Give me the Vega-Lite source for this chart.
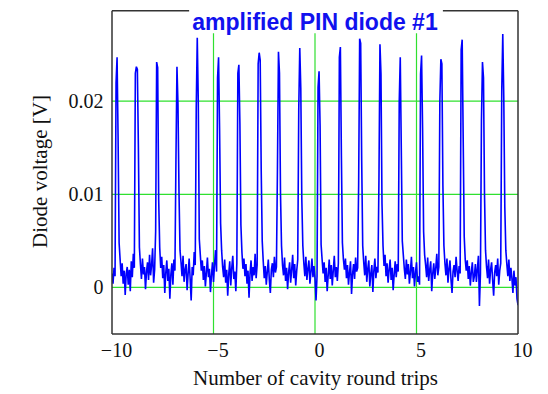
{
  "$schema": "https://vega.github.io/schema/vega-lite/v6.json",
  "width": 406,
  "height": 326,
  "autosize": {"type": "none"},
  "padding": {"left": 112, "top": 8, "right": 30, "bottom": 60},
  "background": "white",
  "config": {
    "view": {"stroke": null},
    "axis": {"grid": false, "ticks": false, "domain": false},
    "axisX": {"labelFlush": false,
      "labelFont": "Liberation Serif", "labelFontSize": 20, "labelColor": "#111", "labelPadding": 6, "labelOffset": 4,
      "titleFont": "Liberation Serif", "titleFontSize": 21, "titleFontWeight": "normal", "titleColor": "#111", "titlePadding": 7},
    "axisY": {"labelFlush": false,
      "labelFont": "Liberation Serif", "labelFontSize": 20, "labelColor": "#111", "labelPadding": 9,
      "titleFont": "Liberation Serif", "titleFontSize": 21, "titleFontWeight": "normal", "titleColor": "#111", "titlePadding": 18}
  },
  "title": {"text": "amplified PIN diode #1", "font": "Liberation Sans", "fontSize": 23, "fontWeight": "bold", "color": "#1111ee", "offset": -27, "anchor": "middle"},
  "layer": [
    {
      "data": {"values": [
        {"gx": -5, "gx2": -5, "gy": -0.005, "gy2": 0.0273},
        {"gx": 0, "gx2": 0, "gy": -0.005, "gy2": 0.0273},
        {"gx": 5, "gx2": 5, "gy": -0.005, "gy2": 0.0273},
        {"gx": -10, "gx2": 10, "gy": 0, "gy2": 0},
        {"gx": -10, "gx2": 10, "gy": 0.01, "gy2": 0.01},
        {"gx": -10, "gx2": 10, "gy": 0.02, "gy2": 0.02}
      ]},
      "mark": {"type": "rule", "color": "#2fe02f", "strokeWidth": 1.2},
      "encoding": {
        "x": {"field": "gx", "type": "quantitative", "scale": {"domain": [-10, 10], "nice": false}, "title": "Number of cavity round trips",
          "axis": {"values": [-10, -5, 0, 5, 10], "format": "d"}},
        "x2": {"field": "gx2"},
        "y": {"field": "gy", "type": "quantitative", "scale": {"domain": [-0.005, 0.03], "nice": false}, "title": "Diode voltage [V]",
          "axis": {"values": [0, 0.01, 0.02], "format": ".2~f"}},
        "y2": {"field": "gy2"}
      }
    },
    {
      "data": {"values": [
        {"x": -10.00, "y": 0.0015}, {"x": -9.95, "y": 0.0004}, {"x": -9.90, "y": 0.0021}, {"x": -9.85, "y": 0.0012},
        {"x": -9.80, "y": 0.0220}, {"x": -9.75, "y": 0.0247}, {"x": -9.70, "y": 0.0160}, {"x": -9.65, "y": 0.0048}, {"x": -9.60, "y": 0.0030},
        {"x": -9.55, "y": 0.0012}, {"x": -9.50, "y": 0.0026}, {"x": -9.45, "y": 0.0004}, {"x": -9.40, "y": 0.0018}, {"x": -9.35, "y": -0.0008}, {"x": -9.30, "y": 0.0015}, {"x": -9.25, "y": 0.0022}, {"x": -9.20, "y": 0.0003}, {"x": -9.15, "y": 0.0019}, {"x": -9.10, "y": -0.0004}, {"x": -9.05, "y": 0.0028}, {"x": -9.00, "y": 0.0011}, {"x": -8.95, "y": 0.0036}, {"x": -8.90, "y": 0.0021},
        {"x": -8.85, "y": 0.0230}, {"x": -8.80, "y": 0.0237}, {"x": -8.75, "y": 0.0234}, {"x": -8.70, "y": 0.0150}, {"x": -8.65, "y": 0.0043},
        {"x": -8.60, "y": 0.0025}, {"x": -8.55, "y": 0.0009}, {"x": -8.50, "y": 0.0031}, {"x": -8.45, "y": 0.0014}, {"x": -8.40, "y": 0.0022}, {"x": -8.35, "y": -0.0002}, {"x": -8.30, "y": 0.0017}, {"x": -8.25, "y": 0.0027}, {"x": -8.20, "y": 0.0008}, {"x": -8.15, "y": 0.0035}, {"x": -8.10, "y": 0.0013}, {"x": -8.05, "y": 0.0024}, {"x": -8.00, "y": 0.0042}, {"x": -7.95, "y": 0.0005}, {"x": -7.90, "y": 0.0019},
        {"x": -7.85, "y": 0.0060}, {"x": -7.80, "y": 0.0242}, {"x": -7.75, "y": 0.0236}, {"x": -7.70, "y": 0.0094}, {"x": -7.65, "y": 0.0043},
        {"x": -7.60, "y": 0.0021}, {"x": -7.55, "y": 0.0033}, {"x": -7.50, "y": 0.0010}, {"x": -7.45, "y": 0.0024}, {"x": -7.40, "y": -0.0006}, {"x": -7.35, "y": 0.0016}, {"x": -7.30, "y": 0.0029}, {"x": -7.25, "y": 0.0007}, {"x": -7.20, "y": 0.0020}, {"x": -7.15, "y": -0.0012}, {"x": -7.10, "y": 0.0014}, {"x": -7.05, "y": 0.0026}, {"x": -7.00, "y": 0.0003}, {"x": -6.95, "y": 0.0030}, {"x": -6.90, "y": 0.0018},
        {"x": -6.85, "y": 0.0137}, {"x": -6.80, "y": 0.0237}, {"x": -6.75, "y": 0.0197}, {"x": -6.70, "y": 0.0102}, {"x": -6.65, "y": 0.0040},
        {"x": -6.60, "y": 0.0027}, {"x": -6.55, "y": 0.0012}, {"x": -6.50, "y": 0.0034}, {"x": -6.45, "y": 0.0006}, {"x": -6.40, "y": 0.0019}, {"x": -6.35, "y": 0.0025}, {"x": -6.30, "y": -0.0003}, {"x": -6.25, "y": 0.0015}, {"x": -6.20, "y": 0.0031}, {"x": -6.15, "y": 0.0009}, {"x": -6.10, "y": -0.0014}, {"x": -6.05, "y": 0.0022}, {"x": -6.00, "y": 0.0013}, {"x": -5.95, "y": 0.0038}, {"x": -5.90, "y": 0.0024},
        {"x": -5.85, "y": 0.0193}, {"x": -5.80, "y": 0.0268}, {"x": -5.75, "y": 0.0200}, {"x": -5.70, "y": 0.0052}, {"x": -5.65, "y": 0.0035},
        {"x": -5.60, "y": 0.0018}, {"x": -5.55, "y": 0.0029}, {"x": -5.50, "y": 0.0008}, {"x": -5.45, "y": 0.0023}, {"x": -5.40, "y": 0.0001}, {"x": -5.35, "y": 0.0016}, {"x": -5.30, "y": 0.0032}, {"x": -5.25, "y": 0.0011}, {"x": -5.20, "y": 0.0020}, {"x": -5.15, "y": -0.0005}, {"x": -5.10, "y": 0.0013}, {"x": -5.05, "y": 0.0027}, {"x": -5.00, "y": 0.0006}, {"x": -4.95, "y": 0.0024}, {"x": -4.90, "y": 0.0040}, {"x": -4.85, "y": 0.0017},
        {"x": -4.80, "y": 0.0225}, {"x": -4.75, "y": 0.0247}, {"x": -4.70, "y": 0.0169}, {"x": -4.65, "y": 0.0069}, {"x": -4.60, "y": 0.0040},
        {"x": -4.55, "y": 0.0022}, {"x": -4.50, "y": 0.0011}, {"x": -4.45, "y": 0.0030}, {"x": -4.40, "y": 0.0005}, {"x": -4.35, "y": 0.0019}, {"x": -4.30, "y": -0.0009}, {"x": -4.25, "y": 0.0014}, {"x": -4.20, "y": 0.0028}, {"x": -4.15, "y": 0.0002}, {"x": -4.10, "y": 0.0021}, {"x": -4.05, "y": 0.0034}, {"x": -4.00, "y": 0.0009}, {"x": -3.95, "y": 0.0017}, {"x": -3.90, "y": -0.0004}, {"x": -3.85, "y": 0.0026},
        {"x": -3.80, "y": 0.0230}, {"x": -3.75, "y": 0.0239}, {"x": -3.70, "y": 0.0176}, {"x": -3.65, "y": 0.0067}, {"x": -3.60, "y": 0.0038},
        {"x": -3.55, "y": 0.0020}, {"x": -3.50, "y": 0.0031}, {"x": -3.45, "y": 0.0012}, {"x": -3.40, "y": 0.0025}, {"x": -3.35, "y": 0.0004}, {"x": -3.30, "y": 0.0018}, {"x": -3.25, "y": -0.0011}, {"x": -3.20, "y": 0.0015}, {"x": -3.15, "y": 0.0029}, {"x": -3.10, "y": 0.0007}, {"x": -3.05, "y": 0.0022}, {"x": -3.00, "y": 0.0013}, {"x": -2.95, "y": 0.0036}, {"x": -2.90, "y": 0.0010}, {"x": -2.85, "y": 0.0024},
        {"x": -2.80, "y": 0.0240}, {"x": -2.75, "y": 0.0252}, {"x": -2.70, "y": 0.0244}, {"x": -2.65, "y": 0.0126}, {"x": -2.60, "y": 0.0050},
        {"x": -2.55, "y": 0.0028}, {"x": -2.50, "y": 0.0010}, {"x": -2.45, "y": 0.0023}, {"x": -2.40, "y": 0.0003}, {"x": -2.35, "y": 0.0017}, {"x": -2.30, "y": 0.0030}, {"x": -2.25, "y": 0.0008}, {"x": -2.20, "y": -0.0006}, {"x": -2.15, "y": 0.0019}, {"x": -2.10, "y": 0.0026}, {"x": -2.05, "y": 0.0011}, {"x": -2.00, "y": 0.0033}, {"x": -1.95, "y": 0.0016}, {"x": -1.90, "y": 0.0022},
        {"x": -1.85, "y": 0.0127}, {"x": -1.80, "y": 0.0253}, {"x": -1.75, "y": 0.0230}, {"x": -1.70, "y": 0.0101}, {"x": -1.65, "y": 0.0045},
        {"x": -1.60, "y": 0.0024}, {"x": -1.55, "y": 0.0013}, {"x": -1.50, "y": 0.0032}, {"x": -1.45, "y": 0.0007}, {"x": -1.40, "y": 0.0021}, {"x": -1.35, "y": -0.0002}, {"x": -1.30, "y": 0.0016}, {"x": -1.25, "y": 0.0027}, {"x": -1.20, "y": 0.0005}, {"x": -1.15, "y": 0.0019}, {"x": -1.10, "y": 0.0035}, {"x": -1.05, "y": 0.0010}, {"x": -1.00, "y": 0.0025}, {"x": -0.95, "y": 0.0002}, {"x": -0.90, "y": 0.0018}, {"x": -0.85, "y": 0.0030},
        {"x": -0.80, "y": 0.0192}, {"x": -0.75, "y": 0.0257}, {"x": -0.70, "y": 0.0214}, {"x": -0.65, "y": 0.0095}, {"x": -0.60, "y": 0.0045},
        {"x": -0.55, "y": 0.0026}, {"x": -0.50, "y": 0.0012}, {"x": -0.45, "y": 0.0033}, {"x": -0.40, "y": 0.0008}, {"x": -0.35, "y": 0.0020}, {"x": -0.30, "y": 0.0029}, {"x": -0.25, "y": 0.0004}, {"x": -0.20, "y": 0.0017}, {"x": -0.15, "y": 0.0031}, {"x": -0.10, "y": 0.0011}, {"x": -0.05, "y": 0.0023}, {"x": 0.00, "y": 0.0010}, {"x": 0.05, "y": -0.0014}, {"x": 0.10, "y": 0.0012},
        {"x": 0.15, "y": 0.0215}, {"x": 0.20, "y": 0.0232}, {"x": 0.25, "y": 0.0174}, {"x": 0.30, "y": 0.0046}, {"x": 0.35, "y": 0.0030},
        {"x": 0.40, "y": 0.0015}, {"x": 0.45, "y": 0.0027}, {"x": 0.50, "y": 0.0006}, {"x": 0.55, "y": 0.0021}, {"x": 0.60, "y": -0.0004}, {"x": 0.65, "y": 0.0013}, {"x": 0.70, "y": 0.0030}, {"x": 0.75, "y": 0.0009}, {"x": 0.80, "y": 0.0024}, {"x": 0.85, "y": 0.0002}, {"x": 0.90, "y": 0.0018}, {"x": 0.95, "y": 0.0034}, {"x": 1.00, "y": 0.0011}, {"x": 1.05, "y": 0.0022}, {"x": 1.10, "y": 0.0007}, {"x": 1.15, "y": 0.0026},
        {"x": 1.20, "y": 0.0247}, {"x": 1.25, "y": 0.0258}, {"x": 1.30, "y": 0.0142}, {"x": 1.35, "y": 0.0048}, {"x": 1.40, "y": 0.0030},
        {"x": 1.45, "y": 0.0019}, {"x": 1.50, "y": 0.0031}, {"x": 1.55, "y": 0.0010}, {"x": 1.60, "y": 0.0024}, {"x": 1.65, "y": 0.0003}, {"x": 1.70, "y": 0.0016}, {"x": 1.75, "y": 0.0028}, {"x": 1.80, "y": -0.0007}, {"x": 1.85, "y": 0.0014}, {"x": 1.90, "y": 0.0025}, {"x": 1.95, "y": 0.0009}, {"x": 2.00, "y": 0.0032}, {"x": 2.05, "y": 0.0017}, {"x": 2.10, "y": 0.0021},
        {"x": 2.15, "y": 0.0110}, {"x": 2.20, "y": 0.0267}, {"x": 2.25, "y": 0.0262}, {"x": 2.30, "y": 0.0136}, {"x": 2.35, "y": 0.0045},
        {"x": 2.40, "y": 0.0027}, {"x": 2.45, "y": 0.0013}, {"x": 2.50, "y": 0.0034}, {"x": 2.55, "y": 0.0006}, {"x": 2.60, "y": 0.0020}, {"x": 2.65, "y": 0.0029}, {"x": 2.70, "y": 0.0001}, {"x": 2.75, "y": 0.0015}, {"x": 2.80, "y": 0.0024}, {"x": 2.85, "y": -0.0005}, {"x": 2.90, "y": 0.0018}, {"x": 2.95, "y": 0.0031}, {"x": 3.00, "y": 0.0010}, {"x": 3.05, "y": 0.0022}, {"x": 3.10, "y": 0.0016},
        {"x": 3.15, "y": 0.0115}, {"x": 3.20, "y": 0.0261}, {"x": 3.25, "y": 0.0229}, {"x": 3.30, "y": 0.0090}, {"x": 3.35, "y": 0.0045},
        {"x": 3.40, "y": 0.0023}, {"x": 3.45, "y": 0.0035}, {"x": 3.50, "y": 0.0012}, {"x": 3.55, "y": 0.0026}, {"x": 3.60, "y": 0.0005}, {"x": 3.65, "y": 0.0019}, {"x": 3.70, "y": 0.0030}, {"x": 3.75, "y": 0.0008}, {"x": 3.80, "y": 0.0021}, {"x": 3.85, "y": -0.0003}, {"x": 3.90, "y": 0.0014}, {"x": 3.95, "y": 0.0028}, {"x": 4.00, "y": 0.0011}, {"x": 4.05, "y": 0.0025}, {"x": 4.10, "y": 0.0017},
        {"x": 4.15, "y": 0.0200}, {"x": 4.20, "y": 0.0247}, {"x": 4.25, "y": 0.0150}, {"x": 4.30, "y": 0.0050}, {"x": 4.35, "y": 0.0035},
        {"x": 4.40, "y": 0.0020}, {"x": 4.45, "y": 0.0009}, {"x": 4.50, "y": 0.0030}, {"x": 4.55, "y": 0.0014}, {"x": 4.60, "y": 0.0025}, {"x": 4.65, "y": 0.0004}, {"x": 4.70, "y": 0.0017}, {"x": 4.75, "y": 0.0033}, {"x": 4.80, "y": 0.0010}, {"x": 4.85, "y": 0.0022}, {"x": 4.90, "y": 0.0001}, {"x": 4.95, "y": 0.0016}, {"x": 5.00, "y": 0.0027}, {"x": 5.05, "y": 0.0006}, {"x": 5.10, "y": 0.0012}, {"x": 5.15, "y": 0.0003},
        {"x": 5.20, "y": 0.0229}, {"x": 5.25, "y": 0.0249}, {"x": 5.30, "y": 0.0170}, {"x": 5.35, "y": 0.0060}, {"x": 5.40, "y": 0.0035},
        {"x": 5.45, "y": 0.0024}, {"x": 5.50, "y": 0.0011}, {"x": 5.55, "y": 0.0032}, {"x": 5.60, "y": 0.0007}, {"x": 5.65, "y": 0.0019}, {"x": 5.70, "y": 0.0028}, {"x": 5.75, "y": -0.0004}, {"x": 5.80, "y": 0.0015}, {"x": 5.85, "y": 0.0026}, {"x": 5.90, "y": 0.0009}, {"x": 5.95, "y": 0.0021}, {"x": 6.00, "y": 0.0036}, {"x": 6.05, "y": 0.0013}, {"x": 6.10, "y": 0.0022},
        {"x": 6.15, "y": 0.0200}, {"x": 6.20, "y": 0.0245}, {"x": 6.25, "y": 0.0240}, {"x": 6.30, "y": 0.0110}, {"x": 6.35, "y": 0.0045},
        {"x": 6.40, "y": 0.0026}, {"x": 6.45, "y": 0.0013}, {"x": 6.50, "y": 0.0031}, {"x": 6.55, "y": 0.0005}, {"x": 6.60, "y": 0.0020}, {"x": 6.65, "y": 0.0029}, {"x": 6.70, "y": 0.0008}, {"x": 6.75, "y": -0.0006}, {"x": 6.80, "y": 0.0017}, {"x": 6.85, "y": 0.0024}, {"x": 6.90, "y": 0.0011}, {"x": 6.95, "y": 0.0033}, {"x": 7.00, "y": 0.0018}, {"x": 7.05, "y": 0.0007}, {"x": 7.10, "y": 0.0023}, {"x": 7.15, "y": 0.0015},
        {"x": 7.20, "y": 0.0255}, {"x": 7.25, "y": 0.0266}, {"x": 7.30, "y": 0.0160}, {"x": 7.35, "y": 0.0055}, {"x": 7.40, "y": 0.0030},
        {"x": 7.45, "y": 0.0018}, {"x": 7.50, "y": 0.0029}, {"x": 7.55, "y": 0.0009}, {"x": 7.60, "y": 0.0023}, {"x": 7.65, "y": 0.0002}, {"x": 7.70, "y": 0.0016}, {"x": 7.75, "y": 0.0027}, {"x": 7.80, "y": 0.0006}, {"x": 7.85, "y": 0.0012}, {"x": 7.90, "y": 0.0025}, {"x": 7.95, "y": 0.0006}, {"x": 8.00, "y": 0.0020}, {"x": 8.05, "y": 0.0034}, {"x": 8.10, "y": -0.0020}, {"x": 8.15, "y": 0.0015},
        {"x": 8.20, "y": 0.0180}, {"x": 8.25, "y": 0.0242}, {"x": 8.30, "y": 0.0225}, {"x": 8.35, "y": 0.0100}, {"x": 8.40, "y": 0.0040},
        {"x": 8.45, "y": 0.0022}, {"x": 8.50, "y": 0.0010}, {"x": 8.55, "y": 0.0030}, {"x": 8.60, "y": 0.0004}, {"x": 8.65, "y": 0.0019}, {"x": 8.70, "y": 0.0027}, {"x": 8.75, "y": 0.0008}, {"x": 8.80, "y": -0.0009}, {"x": 8.85, "y": 0.0016}, {"x": 8.90, "y": 0.0024}, {"x": 8.95, "y": 0.0012}, {"x": 9.00, "y": 0.0031}, {"x": 9.05, "y": 0.0003}, {"x": 9.10, "y": 0.0018}, {"x": 9.15, "y": 0.0026},
        {"x": 9.20, "y": 0.0212}, {"x": 9.25, "y": 0.0272}, {"x": 9.30, "y": 0.0203}, {"x": 9.35, "y": 0.0086}, {"x": 9.40, "y": 0.0040},
        {"x": 9.45, "y": 0.0025}, {"x": 9.50, "y": 0.0012}, {"x": 9.55, "y": 0.0030}, {"x": 9.60, "y": 0.0007}, {"x": 9.65, "y": 0.0021}, {"x": 9.70, "y": 0.0010}, {"x": 9.75, "y": -0.0006}, {"x": 9.80, "y": 0.0018}, {"x": 9.85, "y": 0.0002}, {"x": 9.90, "y": 0.0011}, {"x": 9.95, "y": -0.0012}, {"x": 10.00, "y": -0.0019}
      ]},
      "mark": {"type": "line", "color": "#0000ff", "strokeWidth": 1.6, "clip": true},
      "encoding": {
        "x": {"field": "x", "type": "quantitative", "scale": {"domain": [-10, 10], "nice": false}, "title": "Number of cavity round trips"},
        "y": {"field": "y", "type": "quantitative", "scale": {"domain": [-0.005, 0.03], "nice": false}, "title": "Diode voltage [V]"}
      }
    },
    {
      "data": {"values": [
        {"fx": -10, "fx2": -10, "fy": -0.005, "fy2": 0.0297},
        {"fx": 10, "fx2": 10, "fy": -0.005, "fy2": 0.0297},
        {"fx": -10, "fx2": 10, "fy": -0.005, "fy2": -0.005},
        {"fx": -10, "fx2": -6.2, "fy": 0.0297, "fy2": 0.0297},
        {"fx": 6.3, "fx2": 10, "fy": 0.0297, "fy2": 0.0297}
      ]},
      "mark": {"type": "rule", "color": "#333333", "strokeWidth": 1.5},
      "encoding": {
        "x": {"field": "fx", "type": "quantitative", "scale": {"domain": [-10, 10], "nice": false}, "title": "Number of cavity round trips"},
        "x2": {"field": "fx2"},
        "y": {"field": "fy", "type": "quantitative", "scale": {"domain": [-0.005, 0.03], "nice": false}, "title": "Diode voltage [V]"},
        "y2": {"field": "fy2"}
      }
    }
  ]
}
